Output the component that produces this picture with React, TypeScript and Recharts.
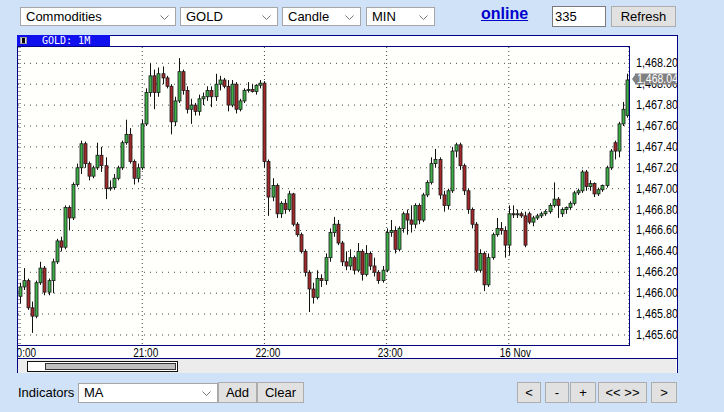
import { ComposedChart, Bar, XAxis, YAxis, CartesianGrid } from "recharts";

// 2-minute candles, 20:00 -> 00:58
const opens = [
  1465.97, 1466.06, 1466.12, 1465.86, 1465.78, 1466.10, 1466.24, 1466.01, 1466.12, 1466.30,
  1466.50, 1466.44, 1466.82, 1466.72, 1467.04, 1467.20, 1467.43, 1467.24, 1467.12, 1467.20,
  1467.32, 1467.22, 1467.00, 1467.01, 1467.10, 1467.20, 1467.44, 1467.52, 1467.26, 1467.10,
  1467.20, 1467.62, 1467.92, 1468.08, 1467.92, 1468.10, 1468.06, 1467.98, 1467.64, 1467.84,
  1468.12, 1467.94, 1467.76, 1467.80, 1467.74, 1467.86, 1467.88, 1467.94, 1467.88, 1468.00,
  1468.04, 1467.98, 1467.80, 1468.00, 1467.76, 1467.84, 1467.94, 1467.95, 1467.93, 1467.99,
  1468.01, 1467.26, 1466.92, 1467.03, 1466.76, 1466.86, 1466.80, 1466.95, 1466.66, 1466.56,
  1466.40, 1466.20, 1466.04, 1465.96, 1466.14, 1466.12, 1466.34, 1466.58, 1466.66, 1466.48,
  1466.30, 1466.26, 1466.34, 1466.22, 1466.40, 1466.18, 1466.38, 1466.26, 1466.20, 1466.12,
  1466.22, 1466.58, 1466.60, 1466.42, 1466.62, 1466.76, 1466.70, 1466.66, 1466.84, 1466.70,
  1466.94, 1467.06, 1467.24, 1467.28, 1466.94, 1466.84, 1466.98, 1467.36, 1467.42, 1467.22,
  1466.98, 1466.80, 1466.66, 1466.22, 1466.38, 1466.08, 1466.34, 1466.56, 1466.62, 1466.60,
  1466.46, 1466.76, 1466.75, 1466.76, 1466.74, 1466.76, 1466.68, 1466.72, 1466.74, 1466.76,
  1466.78, 1466.84, 1466.90, 1466.76, 1466.80, 1466.82, 1466.86, 1466.96, 1466.98, 1467.16,
  1467.02, 1467.05, 1466.95, 1466.99, 1467.03, 1467.20, 1467.44, 1467.36, 1467.62, 1467.70,
];
const highs = [
  1466.10, 1466.24, 1466.14, 1465.92, 1466.12, 1466.30, 1466.26, 1466.14, 1466.33, 1466.52,
  1466.54, 1466.84, 1466.84, 1467.06, 1467.24, 1467.46, 1467.45, 1467.26, 1467.22, 1467.44,
  1467.40, 1467.30, 1467.08, 1467.14, 1467.22, 1467.46, 1467.66, 1467.58, 1467.28, 1467.24,
  1467.66, 1467.96, 1468.20, 1468.14, 1468.16, 1468.17, 1468.08, 1468.00, 1467.88, 1468.25,
  1468.14, 1467.98, 1467.86, 1467.82, 1467.90, 1467.92, 1467.98, 1467.98, 1468.10, 1468.08,
  1468.06, 1468.04, 1468.04, 1468.02, 1467.86, 1467.96, 1468.02, 1468.00, 1468.00, 1468.04,
  1468.03, 1467.28, 1467.10, 1467.05, 1466.88, 1466.90, 1466.98, 1466.96, 1466.68, 1466.58,
  1466.42, 1466.22, 1466.10, 1466.22, 1466.18, 1466.38, 1466.62, 1466.73, 1466.70, 1466.50,
  1466.40, 1466.42, 1466.36, 1466.48, 1466.42, 1466.46, 1466.40, 1466.34, 1466.22, 1466.26,
  1466.62, 1466.70, 1466.64, 1466.64, 1466.78, 1466.80, 1466.84, 1466.86, 1466.86, 1466.96,
  1467.08, 1467.30, 1467.38, 1467.30, 1466.98, 1467.00, 1467.40, 1467.44, 1467.44, 1467.24,
  1467.00, 1466.82, 1466.68, 1466.42, 1466.40, 1466.38, 1466.58, 1466.72, 1466.68, 1466.64,
  1466.84, 1466.84, 1466.80, 1466.78, 1466.78, 1466.78, 1466.74, 1466.76, 1466.78, 1466.80,
  1466.86, 1467.06, 1466.92, 1466.82, 1466.83, 1466.88, 1466.98, 1467.00, 1467.18, 1467.18,
  1467.08, 1467.06, 1467.01, 1467.04, 1467.22, 1467.38, 1467.46, 1467.64, 1467.83, 1468.10,
];
const lows = [
  1465.90, 1466.03, 1465.84, 1465.62, 1465.76, 1466.08, 1465.98, 1465.98, 1466.00, 1466.28,
  1466.40, 1466.42, 1466.60, 1466.70, 1467.02, 1467.14, 1467.20, 1467.08, 1467.10, 1467.18,
  1467.16, 1466.90, 1466.98, 1466.99, 1467.08, 1467.18, 1467.42, 1467.24, 1467.04, 1467.06,
  1467.18, 1467.60, 1467.88, 1467.76, 1467.88, 1468.00, 1467.96, 1467.52, 1467.60, 1467.82,
  1467.90, 1467.72, 1467.62, 1467.70, 1467.70, 1467.80, 1467.84, 1467.78, 1467.84, 1467.94,
  1467.96, 1467.74, 1467.78, 1467.72, 1467.74, 1467.82, 1467.92, 1467.92, 1467.90, 1467.96,
  1467.20, 1466.74, 1466.88, 1466.72, 1466.72, 1466.76, 1466.78, 1466.64, 1466.54, 1466.38,
  1466.16, 1465.82, 1465.90, 1465.94, 1466.06, 1466.08, 1466.30, 1466.54, 1466.46, 1466.26,
  1466.22, 1466.22, 1466.18, 1466.20, 1466.12, 1466.16, 1466.22, 1466.16, 1466.09, 1466.10,
  1466.20, 1466.54, 1466.38, 1466.40, 1466.58, 1466.56, 1466.58, 1466.62, 1466.66, 1466.68,
  1466.92, 1467.04, 1467.20, 1466.90, 1466.78, 1466.80, 1466.96, 1467.30, 1467.18, 1466.94,
  1466.76, 1466.62, 1466.20, 1466.20, 1466.02, 1466.06, 1466.32, 1466.54, 1466.56, 1466.34,
  1466.36, 1466.72, 1466.72, 1466.72, 1466.44, 1466.66, 1466.64, 1466.70, 1466.72, 1466.74,
  1466.76, 1466.82, 1466.72, 1466.73, 1466.76, 1466.80, 1466.84, 1466.94, 1466.96, 1466.98,
  1466.98, 1466.92, 1466.93, 1466.97, 1467.01, 1467.18, 1467.28, 1467.30, 1467.60, 1467.68,
];
const closes = [
  1466.06, 1466.12, 1465.86, 1465.78, 1466.10, 1466.24, 1466.01, 1466.12, 1466.30, 1466.50,
  1466.44, 1466.82, 1466.72, 1467.04, 1467.20, 1467.43, 1467.24, 1467.12, 1467.20, 1467.32,
  1467.22, 1467.00, 1467.01, 1467.10, 1467.20, 1467.44, 1467.52, 1467.26, 1467.10, 1467.20,
  1467.62, 1467.92, 1468.08, 1467.92, 1468.10, 1468.06, 1467.98, 1467.64, 1467.84, 1468.12,
  1467.94, 1467.76, 1467.80, 1467.74, 1467.86, 1467.88, 1467.94, 1467.88, 1468.00, 1468.04,
  1467.98, 1467.80, 1468.00, 1467.76, 1467.84, 1467.94, 1467.95, 1467.93, 1467.99, 1468.01,
  1467.26, 1466.92, 1467.03, 1466.76, 1466.86, 1466.80, 1466.95, 1466.66, 1466.56, 1466.40,
  1466.20, 1466.04, 1465.96, 1466.14, 1466.12, 1466.34, 1466.58, 1466.66, 1466.48, 1466.30,
  1466.26, 1466.34, 1466.22, 1466.40, 1466.18, 1466.38, 1466.26, 1466.20, 1466.12, 1466.22,
  1466.58, 1466.60, 1466.42, 1466.62, 1466.76, 1466.70, 1466.66, 1466.84, 1466.70, 1466.94,
  1467.06, 1467.24, 1467.28, 1466.94, 1466.84, 1466.98, 1467.36, 1467.42, 1467.22, 1466.98,
  1466.80, 1466.66, 1466.22, 1466.38, 1466.08, 1466.34, 1466.56, 1466.62, 1466.60, 1466.46,
  1466.76, 1466.75, 1466.76, 1466.74, 1466.46, 1466.68, 1466.72, 1466.74, 1466.76, 1466.78,
  1466.84, 1466.90, 1466.84, 1466.80, 1466.82, 1466.86, 1466.96, 1466.98, 1467.16, 1467.02,
  1467.05, 1466.95, 1466.99, 1467.03, 1467.20, 1467.36, 1467.36, 1467.62, 1467.76, 1468.04,
];

const times = opens.map((_, i) => {
  const m = 20 * 60 + i * 2;
  return String(Math.floor(m / 60) % 24).padStart(2, "0") + ":" + String(m % 60).padStart(2, "0");
});
const tickTimes = ["20:00", "21:00", "22:00", "23:00", "00:00"];
const tickLabels = ["20:00", "21:00", "22:00", "23:00", "16 Nov"];
const yTicks = [
  1465.6, 1465.8, 1466.0, 1466.2, 1466.4, 1466.6, 1466.8, 1467.0, 1467.2, 1467.4, 1467.6, 1467.8, 1468.0, 1468.2,
];

const data = times.map((t, i) => ({
  t,
  range: [lows[i], highs[i]],
  o: opens[i],
  h: highs[i],
  l: lows[i],
  c: closes[i],
}));
const last = closes[closes.length - 1];

const axisFont = "'Liberation Sans', Arial, sans-serif";
const uiFont = "'Liberation Sans', Arial, sans-serif";
const fmt = (v: number) =>
  v.toLocaleString("en-US", { minimumFractionDigits: 2, maximumFractionDigits: 2 });

function Candle(props: any) {
  const { x, y, width, height, payload } = props;
  const { o, h, l, c } = payload;
  const cx = Math.round(x + width / 2) + 0.5;
  const top = Math.min(y, y + height);
  const span = Math.abs(height);
  const k = h === l ? 0 : span / (h - l);
  const yOf = (v: number) => top + (h - v) * k;
  const bt = yOf(Math.max(o, c));
  const bb = yOf(Math.min(o, c));
  return (
    <g>
      <line x1={cx} x2={cx} y1={top} y2={top + span} stroke="#111" strokeWidth={1} />
      <rect
        x={cx - 1.5}
        y={bt}
        width={3}
        height={Math.max(1, bb - bt)}
        fill={c >= o ? "#3fae49" : "#a3282a"}
        stroke="#1b1b1b"
        strokeWidth={0.8}
      />
    </g>
  );
}

function XTick({ x, y, payload }: any) {
  const i = tickTimes.indexOf(payload.value);
  const label = tickLabels[i] ?? payload.value;
  return (
    <text
      x={x - 9}
      y={y + 10}
      fontFamily={axisFont}
      fontSize={12}
      textLength={label.length > 5 ? 31 : 25}
      lengthAdjust="spacingAndGlyphs"
      fill="#000"
    >
      {label}
    </text>
  );
}

// the last tick is the current price: drawn as a grey tag on top of the others
function YTick({ x, y, payload, index }: any) {
  if (index === yTicks.length) {
    const x0 = x + 1;
    const y0 = y - 1;
    return (
      <g>
        <polygon points={`${x0},${y0} ${x0 + 4},${y0 - 5.5} ${x0 + 4},${y0 + 5.5}`} fill="#808080" />
        <rect x={x0 + 3} y={y0 - 5.5} width={44} height={11} fill="#808080" />
        <text
          x={x0 + 5}
          y={y0 + 4}
          fontFamily={axisFont}
          fontSize={12}
          textLength={41}
          lengthAdjust="spacingAndGlyphs"
          fill="#fff"
        >
          {fmt(payload.value)}
        </text>
      </g>
    );
  }
  return (
    <text
      x={x + 5}
      y={y + 4}
      fontFamily={axisFont}
      fontSize={12}
      textLength={42}
      lengthAdjust="spacingAndGlyphs"
      fill="#000"
    >
      {fmt(payload.value)}
    </text>
  );
}

function Select({ left, top, width, height = 19, text }: any) {
  return (
    <div
      style={{
        position: "absolute", left, top, width, height, boxSizing: "border-box",
        border: "1px solid #a6a6a6", background: "#fff", fontSize: 13, lineHeight: `${height - 2}px`,
        paddingLeft: 5, color: "#000",
      }}
    >
      {text}
      <svg width={9} height={5} style={{ position: "absolute", right: 6, top: (height - 2) / 2 - 2 }}>
        <polyline points="0.5,0.5 4.5,4.5 8.5,0.5" fill="none" stroke="#777" strokeWidth={1} />
      </svg>
    </div>
  );
}

function Button({ left, top, width, height = 21, text }: any) {
  return (
    <div
      style={{
        position: "absolute", left, top, width, height, boxSizing: "border-box",
        border: "1px solid #adadad", background: "#e1e1e1", fontSize: 13, lineHeight: `${height - 2}px`,
        textAlign: "center", color: "#000",
      }}
    >
      {text}
    </div>
  );
}

export default function App() {
  return (
    <div
      style={{
        position: "absolute", left: 0, top: 0, width: 724, height: 412, overflow: "hidden",
        background: "#cfe2f7", fontFamily: uiFont,
      }}
    >
      <Select left={20} top={7} width={156} text="Commodities" />
      <Select left={180} top={7} width={98} text="GOLD" />
      <Select left={282} top={7} width={79} text="Candle" />
      <Select left={366} top={7} width={69} text="MIN" />
      <div
        style={{
          position: "absolute", left: 481, top: 5, fontSize: 16, fontWeight: "bold", color: "#0000cc",
          textDecoration: "underline",
        }}
      >
        online
      </div>
      <div
        style={{
          position: "absolute", left: 552, top: 6, width: 54, height: 21, boxSizing: "border-box",
          border: "1px solid #7a7a7a", background: "#fff", fontSize: 13, lineHeight: "19px", paddingLeft: 2,
        }}
      >
        335
      </div>
      <Button left={611} top={6} width={65} text="Refresh" />

      <div
        style={{
          position: "absolute", left: 17, top: 35, width: 661, height: 338, boxSizing: "border-box",
          borderTop: "1px solid #000080", borderLeft: "1px solid #000080", borderRight: "1px solid #000080",
          background: "#fff",
        }}
      />
      <div style={{ position: "absolute", left: 17, top: 35, width: 93, height: 11, background: "#1010ee" }} />
      <div
        style={{
          position: "absolute", left: 20, top: 37, width: 7, height: 7, boxSizing: "border-box",
          border: "1px solid #9a9a9a", background: "#e0e0e0",
        }}
      >
        <div style={{ position: "absolute", left: 1, top: 0, width: 3, height: 5, background: "#000" }} />
      </div>
      <div
        style={{
          position: "absolute", left: 42, top: 35, fontFamily: "'DejaVu Sans Mono', monospace", fontSize: 10,
          lineHeight: "11px", color: "#fff",
        }}
      >
        GOLD: 1M
      </div>

      <div style={{ position: "absolute", left: 18, top: 47, width: 659, height: 312, overflow: "hidden" }}>
        <ComposedChart
          width={659}
          height={312}
          data={data}
          margin={{ top: 0, right: 0, bottom: 0, left: 0 }}
          barCategoryGap={0}
        >
          <CartesianGrid
            horizontal
            vertical={false}
            horizontalValues={yTicks}
            stroke="#444"
            strokeDasharray="1 5"
            fill="#fffffb"
          />
          <CartesianGrid horizontal={false} vertical stroke="#444" strokeDasharray="1 3" />
          <XAxis
            dataKey="t"
            ticks={tickTimes}
            interval={0}
            height={14}
            tickSize={0}
            axisLine={false}
            tickLine={false}
            tick={<XTick />}
          />
          <YAxis
            orientation="right"
            domain={[1465.504, 1468.356]}
            ticks={[...yTicks, last]}
            interval={0}
            allowDataOverflow
            width={48}
            tickSize={0}
            axisLine={false}
            tickLine={false}
            tick={<YTick />}
          />
          <Bar dataKey="range" shape={<Candle />} isAnimationActive={false} />
        </ComposedChart>
      </div>

      <div
        style={{
          position: "absolute", left: 17, top: 46, width: 613, height: 300, boxSizing: "border-box",
          border: "1px solid #000080", pointerEvents: "none",
        }}
      />
      <div style={{ position: "absolute", left: 17, top: 358, width: 661, height: 1, background: "#000080" }} />
      <div style={{ position: "absolute", left: 18, top: 359, width: 658, height: 14, background: "#ececec" }} />
      <div
        style={{
          position: "absolute", left: 27, top: 361, width: 151, height: 11, boxSizing: "border-box",
          border: "1px solid #111", background: "#fff",
        }}
      />
      <div
        style={{
          position: "absolute", left: 45, top: 363, width: 131, height: 7, boxSizing: "border-box",
          border: "1px solid #333", background: "#c0c0c0",
        }}
      />

      <div style={{ position: "absolute", left: 18, top: 384, fontSize: 13, lineHeight: "17px" }}>Indicators</div>
      <Select left={78} top={383} width={140} height={20} text="MA" />
      <Button left={218} top={382} width={39} text="Add" />
      <Button left={257} top={382} width={47} text="Clear" />
      <Button left={517} top={382} width={24} text="<" />
      <Button left={545} top={382} width={24} text="-" />
      <Button left={570} top={382} width={26} text="+" />
      <Button left={598} top={382} width={49} text="<< >>" />
      <Button left={651} top={382} width={26} text=">" />
    </div>
  );
}
